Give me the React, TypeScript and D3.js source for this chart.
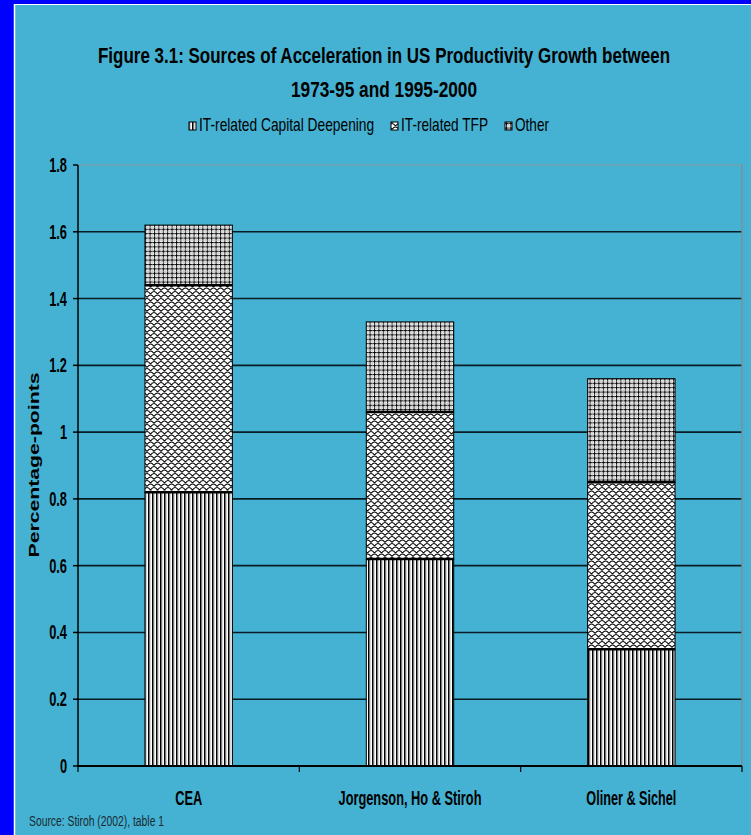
import React, { useLayoutEffect, useRef, useState } from 'react';
import * as d3 from 'd3';

// ---- Data ----
const categories = ['CEA', 'Jorgenson, Ho & Stiroh', 'Oliner & Sichel'];
const seriesNames = ['IT-related Capital Deepening', 'IT-related TFP', 'Other'];
const capitalDeepening = [0.82, 0.62, 0.35];
const itTFP = [0.62, 0.44, 0.5];
const otherSources = [0.18, 0.27, 0.31];
const yTickValues = [0, 0.2, 0.4, 0.6, 0.8, 1, 1.2, 1.4, 1.6, 1.8];
const yTickLabels = ['0', '0.2', '0.4', '0.6', '0.8', '1', '1.2', '1.4', '1.6', '1.8'];
const titleLines = ['Figure 3.1: Sources of Acceleration in US Productivity Growth between', '1973-95 and 1995-2000'];
const yAxisTitle = 'Percentage-points';
const sourceNote = 'Source: Stiroh (2002), table 1';

// ---- Layout (measured text lengths etc.) ----
const W = 751;
const H = 835;
const BG = '#45B2D3';
const FONT = '"Liberation Sans", Arial, sans-serif';
const legendTextLengths = [175, 87, 34];
const categoryLabelLengths = [27, 143, 90];
const patternIds = ['pat-vert', 'pat-wave', 'pat-grid'];

type FitProps = {
  x: number;
  y: number;
  len: number;
  anchor?: 'start' | 'middle' | 'end';
  rotate?: number;
  size: number;
  bold?: boolean;
  fill?: string;
  children: string;
};

function FitText({ x, y, len, anchor = 'start', rotate = 0, size, bold, fill = '#000', children }: FitProps) {
  const ref = useRef<SVGTextElement>(null);
  const [s, setS] = useState(0.7);
  useLayoutEffect(() => {
    if (ref.current) {
      const n = ref.current.getComputedTextLength();
      if (n > 0) setS(len / n);
    }
  }, [len, children, size]);
  return (
    <g transform={`translate(${x},${y}) rotate(${rotate}) scale(${s},1)`}>
      <text ref={ref} x={0} y={0} textAnchor={anchor} fontFamily={FONT} fontWeight={bold ? 'bold' : 'normal'}
        fontSize={size} fill={fill}>{children}</text>
    </g>
  );
}

export default function App() {
  const plot = { left: 78, right: 742, top: 165, bottom: 766 };
  const y = d3.scaleLinear().domain([0, 1.8]).range([plot.bottom, plot.top]);
  const x = d3.scaleBand<string>().domain(categories).range([plot.left, plot.right]).padding(0);
  const barW = x.bandwidth() * 0.395;

  const rows = categories.map((c, i) => ({
    cat: c,
    s0: capitalDeepening[i],
    s1: itTFP[i],
    s2: otherSources[i],
  }));
  const stacked = d3.stack<any>().keys(['s0', 's1', 's2'])(rows);

  // legend positions
  let lx = 189;
  const legendItems = seriesNames.map((name, i) => {
    const item = { name, box: lx, text: lx + 10, len: legendTextLengths[i], pat: patternIds[i] };
    lx = lx + 9 + legendTextLengths[i] + 18;
    return item;
  });

  const boundaries = [...categories.map((c) => x(c)!), plot.right];

  return (
    <svg width={W} height={H} style={{ position: 'fixed', left: 0, top: 0, display: 'block' }}>
      <defs>
        <pattern id="pat-vert" width={4} height={4} patternUnits="userSpaceOnUse">
          <rect width={4} height={4} fill="#fff" />
          <rect x={0} width={1.6} height={4} fill="#000" />
          <rect x={1.6} width={0.8} height={4} fill="#999" />
        </pattern>
        <pattern id="pat-grid" width={4.4} height={4.4} patternUnits="userSpaceOnUse">
          <rect width={4.4} height={4.4} fill="#fff" />
          <rect x={0} width={1} height={4.4} fill="#000" />
          <rect y={0} width={4.4} height={1} fill="#000" />
          <rect x={2.5} width={0.6} height={4.4} fill="#bbb" />
          <rect y={2.5} width={4.4} height={0.6} fill="#bbb" />
        </pattern>
        <pattern id="pat-wave" width={7} height={7} patternUnits="userSpaceOnUse">
          <rect width={7} height={7} fill="#fff" />
          <path
            d="M0,3.5 Q3.5,-1.5 7,3.5 M-3.5,7 Q0,2 3.5,7 M3.5,7 Q7,2 10.5,7 M-3.5,0 Q0,-5 3.5,0 M3.5,0 Q7,-5 10.5,0"
            fill="none"
            stroke="#000"
            strokeWidth={1.2}
          />
        </pattern>
      </defs>

      {/* background & border */}
      <rect x={0} y={0} width={W} height={H} fill={BG} />
      <rect x={0} y={0} width={W} height={4} fill="#0000FF" />
      <rect x={0} y={0} width={14} height={H} fill="#0000FF" />
      <line x1={15} x2={W} y1={4.5} y2={4.5} stroke="#fff" strokeWidth={1} />
      <line x1={14.5} x2={14.5} y1={4} y2={H} stroke="#fff" strokeWidth={1.5} />

      {/* title */}
      <FitText x={384} y={63} len={572} anchor="middle" size={22} bold>{titleLines[0]}</FitText>
      <FitText x={384} y={97} len={186} anchor="middle" size={22} bold>{titleLines[1]}</FitText>

      {/* legend */}
      {legendItems.map((it) => (
        <g key={it.name}>
          <rect x={it.box} y={122} width={7} height={8} fill={`url(#${it.pat})`} stroke="#000" strokeWidth={1} />
          <FitText x={it.text} y={131} len={it.len} size={18}>{it.name}</FitText>
        </g>
      ))}

      {/* gridlines */}
      {yTickValues.filter((v) => v > 0).map((v) => (
        <line key={v} x1={plot.left} x2={plot.right} y1={y(v)} y2={y(v)}
          stroke={v === 1.8 ? '#8a9aa0' : '#0a1c22'} strokeWidth={v === 1.8 ? 1 : 1.6} />
      ))}
      <line x1={plot.right} x2={plot.right} y1={plot.top} y2={plot.bottom} stroke="#7d8f96" strokeWidth={1.5} />

      {/* bars */}
      {stacked.map((layer, si) => (
        <g key={si}>
          {layer.map((d: any, ci: number) => {
            const cx = x(categories[ci])! + x.bandwidth() / 2;
            return (
              <rect key={ci} x={cx - barW / 2} y={y(d[1])} width={barW} height={y(d[0]) - y(d[1])}
                fill={`url(#${patternIds[si]})`} stroke="#000" strokeWidth={1} />
            );
          })}
        </g>
      ))}
      {/* segment boundaries (thick) */}
      {stacked.slice(0, 2).map((layer, si) => (
        <g key={'b' + si}>
          {layer.map((d: any, ci: number) => {
            const cx = x(categories[ci])! + x.bandwidth() / 2;
            return <line key={ci} x1={cx - barW / 2} x2={cx + barW / 2} y1={y(d[1])} y2={y(d[1])} stroke="#000" strokeWidth={2.5} />;
          })}
        </g>
      ))}

      {/* y axis */}
      <line x1={plot.left} x2={plot.left} y1={plot.top} y2={plot.bottom} stroke="#000" strokeWidth={1.5} />
      {yTickValues.map((v, i) => (
        <g key={v}>
          <line x1={plot.left - 5} x2={plot.left} y1={y(v)} y2={y(v)} stroke="#000" strokeWidth={1.5} />
          <g transform={`translate(67,${y(v) + 7}) scale(0.64,1)`}>
            <text x={0} y={0} textAnchor="end" fontFamily={FONT} fontWeight="bold" fontSize={20} fill="#000">{yTickLabels[i]}</text>
          </g>
        </g>
      ))}

      {/* x axis */}
      <line x1={plot.left} x2={plot.right} y1={plot.bottom} y2={plot.bottom} stroke="#000" strokeWidth={2} />
      {boundaries.map((bx, i) => (
        <line key={i} x1={bx} x2={bx} y1={plot.bottom} y2={plot.bottom + 6} stroke="#000" strokeWidth={1.2} />
      ))}
      {categories.map((c, i) => (
        <FitText key={c} x={x(c)! + x.bandwidth() / 2} y={805} len={categoryLabelLengths[i]} anchor="middle" size={20} bold>{c}</FitText>
      ))}

      {/* y axis title */}
      <FitText x={39} y={465} rotate={-90} len={185} anchor="middle" size={14} bold>{yAxisTitle}</FitText>

      {/* source */}
      <FitText x={29} y={826} len={135} size={15} fill="#1a2a30">{sourceNote}</FitText>
    </svg>
  );
}
